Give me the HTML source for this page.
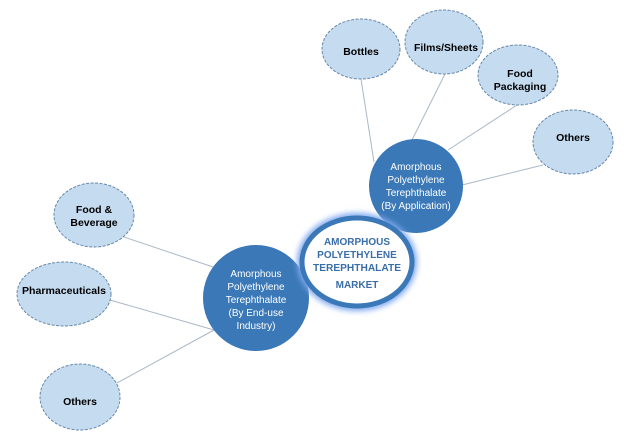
<!DOCTYPE html>
<html><head><style>
html,body{margin:0;padding:0;background:#fff;width:626px;height:441px;overflow:hidden}
svg text{font-family:"Liberation Sans",sans-serif}
</style></head><body>
<svg width="626" height="441" viewBox="0 0 626 441" xmlns="http://www.w3.org/2000/svg">
<defs>
<filter id="g" x="-30%" y="-30%" width="160%" height="160%"><feGaussianBlur stdDeviation="3"/></filter>
</defs>
<g stroke="#a9b8c8" stroke-width="1">
<line x1="361" y1="79" x2="374" y2="162"/>
<line x1="445" y1="74" x2="412" y2="140"/>
<line x1="517" y1="105" x2="448" y2="150"/>
<line x1="543" y1="165" x2="462" y2="185"/>
<line x1="124" y1="237" x2="222" y2="270"/>
<line x1="110" y1="300" x2="214" y2="330"/>
<line x1="117" y1="383" x2="214" y2="330"/>
</g>
<g fill="#c5dbf0" stroke="#6688aa" stroke-width="1" stroke-dasharray="3,1.5">
<ellipse cx="361" cy="49" rx="39" ry="30"/>
<ellipse cx="444" cy="42" rx="39" ry="32"/>
<ellipse cx="518" cy="75" rx="40" ry="30"/>
<ellipse cx="573" cy="142" rx="40" ry="32"/>
<ellipse cx="94" cy="215" rx="40" ry="32"/>
<ellipse cx="64" cy="294" rx="47" ry="32"/>
<ellipse cx="80" cy="397" rx="40" ry="33"/>
</g>
<g font-weight="bold" font-size="10.5" fill="#000" text-anchor="middle">
<text x="361" y="55">Bottles</text>
<text x="446" y="51" textLength="64" lengthAdjust="spacingAndGlyphs">Films/Sheets</text>
<text x="520" y="77">Food</text><text x="520" y="90">Packaging</text>
<text x="573" y="141">Others</text>
<text x="94" y="213">Food &amp;</text><text x="94" y="226">Beverage</text>
<text x="64" y="294" textLength="84" lengthAdjust="spacingAndGlyphs">Pharmaceuticals</text>
<text x="80" y="405">Others</text>
</g>
<circle cx="416" cy="186" r="47" fill="#3a78b7"/>
<circle cx="256" cy="298" r="53" fill="#3a78b7"/>
<g fill="#fff" font-size="10" text-anchor="middle">
<text x="416" y="170">Amorphous</text>
<text x="416" y="183">Polyethylene</text>
<text x="416" y="196">Terephthalate</text>
<text x="416" y="209">(By Application)</text>
<text x="256" y="277">Amorphous</text>
<text x="256" y="290">Polyethylene</text>
<text x="256" y="303">Terephthalate</text>
<text x="256" y="316">(By End-use</text>
<text x="256" y="329">Industry)</text>
</g>
<ellipse cx="357" cy="262" rx="60" ry="49" fill="#7fa8f0" filter="url(#g)"/>
<ellipse cx="357" cy="262" rx="55" ry="44" fill="#fff" stroke="#3a78b7" stroke-width="5"/>
<g fill="#3a6ea8" font-weight="bold" font-size="10" text-anchor="middle">
<text x="357" y="245">AMORPHOUS</text>
<text x="357" y="258">POLYETHYLENE</text>
<text x="357" y="271" textLength="88" lengthAdjust="spacingAndGlyphs">TEREPHTHALATE</text>
<text x="357" y="288">MARKET</text>
</g>
</svg>
</body></html>
